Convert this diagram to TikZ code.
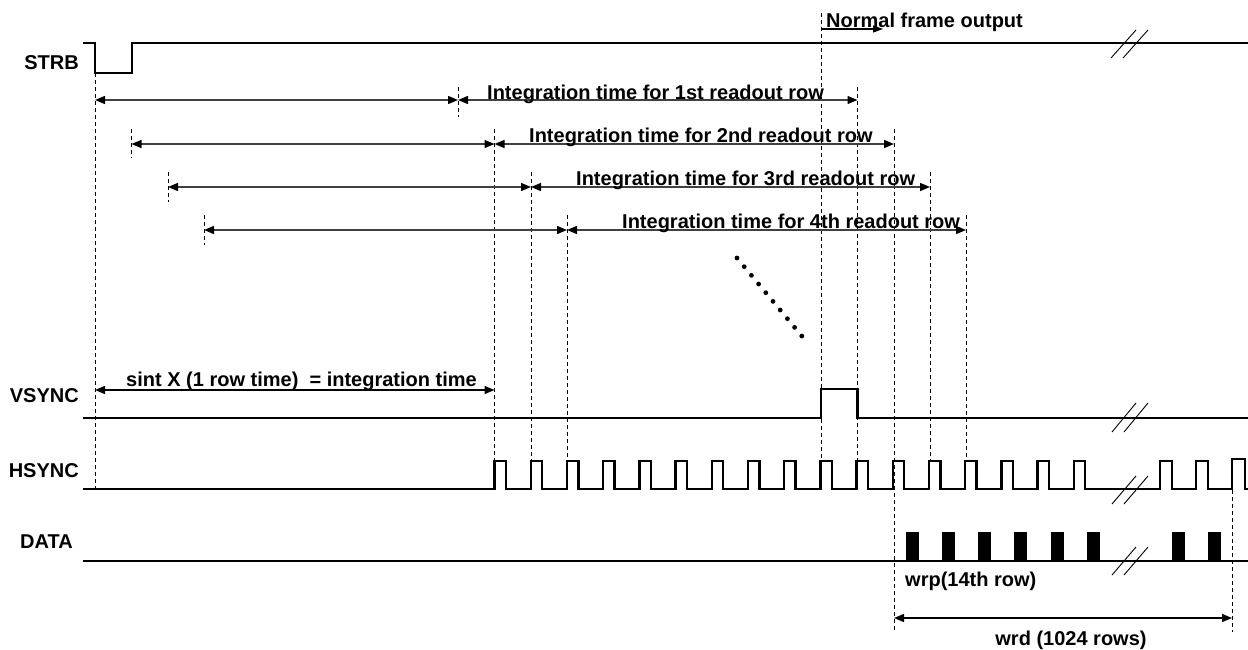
\documentclass[tikz,border=0pt]{standalone}
\usepackage{fontspec}
\setmainfont{Liberation Sans}
\usetikzlibrary{arrows.meta}
\begin{document}
\begin{tikzpicture}[x=1pt,y=-1pt,
  sig/.style={line width=2.4pt, line join=miter},
  guide/.style={line width=0.9pt, dash pattern=on 4pt off 3pt},
  dim/.style={line width=1.4pt, draw=black!75, {Triangle[length=10pt,width=8pt,color=black]}-{Triangle[length=10pt,width=8pt,color=black]}},
  onearrow/.style={line width=1.2pt, -{Triangle[length=10pt,width=7pt]}},
  lbl/.style={font=\fontsize{20}{23}\selectfont\bfseries, inner sep=0pt},
  brk/.style={line width=0.9pt},
  dot/.style={fill=black}]
\useasboundingbox (0,0) rectangle (1248,649);

% signal names
\node[lbl, anchor=base east] (strb) at (79,69) {STRB};
\node[lbl, anchor=base east] (vsync) at (79,402) {VSYNC};
\node[lbl, anchor=base east] (hsync) at (79,477) {HSYNC};
\node[lbl, anchor=base east] (data) at (73,548) {DATA};

% STRB waveform
\draw[sig] (83,43) -- (95,43) -- (95,73) -- (132,73) -- (132,43) -- (1248,43);
\draw[brk] (1111,58) -- (1136,30) (1123,58) -- (1148,30);

% VSYNC waveform
\draw[sig] (83,418) -- (821,418) -- (821,389) -- (857.5,389) -- (857.5,418) -- (1248,418);
\draw[brk] (1112,432) -- (1136,403) (1124,432) -- (1148,403);

% HSYNC waveform
\draw[sig] (83,489) foreach \k in {0,...,16} {
   -- ({494.5+36.2*\k},489) -- ({494.5+36.2*\k},461) -- ({506+36.2*\k},461) -- ({506+36.2*\k},489) }
   -- (1160,489) -- (1160,461) -- (1172,461) -- (1172,489)
   -- (1196,489) -- (1196,461) -- (1208,461) -- (1208,489)
   -- (1232,489) -- (1232,459) -- (1245,459) -- (1245,489) -- (1248,489);
\draw[brk] (1112,504) -- (1136,476) (1124,504) -- (1148,476);

% DATA waveform
\draw[sig] (83,561) -- (1248,561);
\foreach \x in {906,942,978,1014,1051,1087,1172,1208}
  \fill (\x,532) rectangle ++(13,29);
\draw[brk] (1112,575) -- (1136,547) (1124,575) -- (1148,547);

% dashed guides
\draw[guide] (95,73) -- (95,490);
\draw[guide] (131.5,129) -- (131.5,158);
\draw[guide] (168,172) -- (168,202);
\draw[guide] (204,215) -- (204,245);
\draw[guide] (458,87) -- (458,117);
\draw[guide] (494.5,129) -- (494.5,461);
\draw[guide] (531,172) -- (531,461);
\draw[guide] (567,215) -- (567,461);
\draw[guide] (821,13) -- (821,461);
\draw[guide] (857.5,87) -- (857.5,461);
\draw[guide] (894,129) -- (894,632);
\draw[guide] (930,172) -- (930,461);
\draw[guide] (966,215) -- (966,461);
\draw[guide] (1232,490) -- (1232,632);

% integration arrows
\foreach \i/\ya/\xa/\xb/\xc in {1/100/95/458/857.5, 2/144/131.5/494.5/894, 3/187/168/531/930, 4/230/204/567/966} {
  \coordinate (L\i) at (\xa,\ya);
  \coordinate (M\i) at (\xb,\ya);
  \coordinate (R\i) at (\xc,\ya);
  \draw[dim] (L\i) -- (M\i);
  \draw[dim] (M\i) -- (R\i);
}
\node[lbl, anchor=base west] (it1) at (487,99) {Integration time for 1st readout row};
\node[lbl, anchor=base west] (it2) at (529,142) {Integration time for 2nd readout row};
\node[lbl, anchor=base west] (it3) at (576,185) {Integration time for 3rd readout row};
\node[lbl, anchor=base west] (it4) at (622,228) {Integration time for 4th readout row};

% normal frame output
\coordinate (nf0) at (821,29);
\coordinate (nf1) at (883,29);
\node[lbl, anchor=base west] (nfo) at (826,27) {Normal frame output};
\draw[onearrow] (nf0) -- (nf1);

% sint arrow
\coordinate (s0) at (95,390);
\coordinate (s1) at (494.5,390);
\draw[dim, draw=black] (s0) -- (s1);
\node[lbl, anchor=base west] (sint) at (126,386) {sint X (1 row time)\ \ = integration time};

% wrp / wrd
\node[lbl, anchor=base west] (wrp) at (905,586) {wrp(14th row)};
\coordinate (w0) at (894,618);
\coordinate (w1) at (1232,618);
\draw[dim, draw=black] (w0) -- (w1);
\node[lbl, anchor=base] (wrd) at (1071,645) {wrd (1024 rows)};

% dotted continuation
\foreach \i in {0,...,9}
  \fill[dot] ({737+7.2*\i},{258+8.67*\i}) circle (2.4);
\end{tikzpicture}
\end{document}
